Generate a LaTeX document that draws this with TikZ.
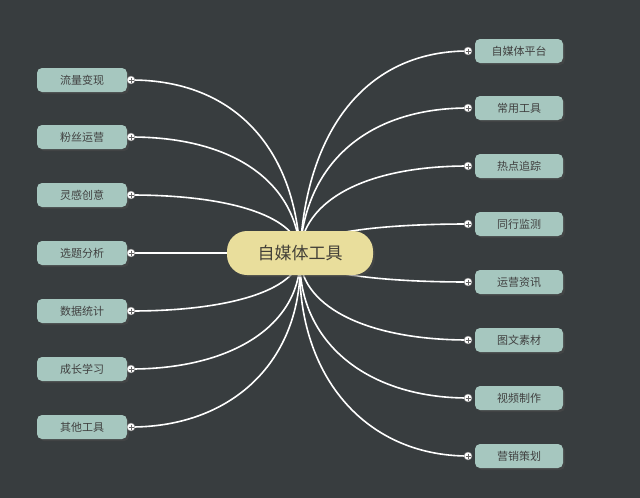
\documentclass[tikz,border=0pt]{standalone}
\usepackage{fontspec}
\setmainfont{Noto Sans CJK SC}
\usetikzlibrary{shadows,calc}
\definecolor{bgc}{HTML}{383D3F}
\definecolor{leaff}{HTML}{A6C7BF}
\definecolor{rootf}{HTML}{E9DE9C}
\tikzset{
  leaf/.style={draw=none, fill=leaff, rounded corners=5pt, minimum width=90pt, minimum height=24pt,
    font=\fontsize{11}{11}\selectfont, text=black!75, drop shadow={shadow xshift=2pt, shadow yshift=-2pt, fill=black!70}},
  root/.style={fill=rootf, rounded corners=20pt, minimum width=146pt, minimum height=44pt,
    font=\fontsize{17}{17}\selectfont, text=black!85!yellow, drop shadow={shadow xshift=2pt, shadow yshift=-2pt, fill=black!70}},
  branch/.style={white, line width=1.6pt},
  knob/.style={circle, draw=black!50, fill=white, inner sep=0pt, minimum size=8pt}
}
\begin{document}
\begin{tikzpicture}[x=1pt,y=-1pt]
\fill[bgc] (0,0) rectangle (640,498);
\useasboundingbox (0,0) rectangle (640,498);

\coordinate (hub) at (300,253);

% left side
\foreach \txt/\y [count=\i] in {流量变现/80,粉丝运营/137,灵感创意/195,选题分析/253,数据统计/311,成长学习/369,其他工具/427}{
  \pgfmathsetmacro\cx{300-(253-\y)*0.03}
  \pgfmathsetmacro\cy{\y+(253-\y)*0.4}
  \node[leaf] (L\i) at (82,\y) {\txt};
  \coordinate (LK\i) at (131,\y);
  \draw[branch] (hub) .. controls (\cx,\cy) and (235,\y) .. (LK\i);
  \node[knob] at (LK\i) {};
  \draw[black!60, line width=0.5pt] ($(LK\i)+(-2.5,0)$) -- ++(5,0) ($(LK\i)+(0,-2.5)$) -- ++(0,5);
}

% right side
\foreach \txt/\y [count=\i] in {自媒体平台/51,常用工具/108,热点追踪/166,同行监测/224,运营资讯/282,图文素材/340,视频制作/398,营销策划/456}{
  \pgfmathsetmacro\cx{300+(253-\y)*0.03}
  \pgfmathsetmacro\cy{\y+(253-\y)*0.4}
  \node[leaf, minimum width=88pt] (R\i) at (519,\y) {\txt};
  \coordinate (RK\i) at (468,\y);
  \draw[branch] (hub) .. controls (\cx,\cy) and (365,\y) .. (RK\i);
  \node[knob] at (RK\i) {};
  \draw[black!60, line width=0.5pt] ($(RK\i)+(-2.5,0)$) -- ++(5,0) ($(RK\i)+(0,-2.5)$) -- ++(0,5);
}

\node[root] (root) at (hub) {自媒体工具};
\end{tikzpicture}
\end{document}
